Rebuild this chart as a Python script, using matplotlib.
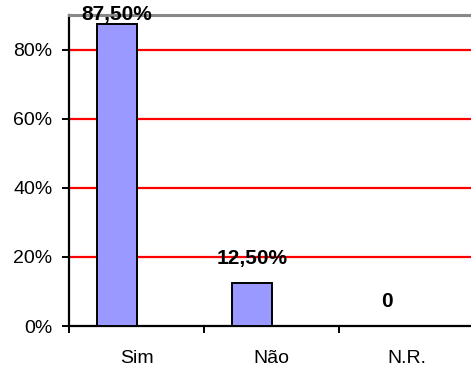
import matplotlib
matplotlib.use("Agg")
import matplotlib.pyplot as plt

plt.rcParams["font.family"] = ["Liberation Sans", "DejaVu Sans"]

categorias = ["Sim", "Não", "N.R."]
valores = [87.5, 12.5, 0.0]
rotulos = ["87,50%", "12,50%", "0"]


def plot():
    fig = plt.figure(figsize=(4.71, 3.69), dpi=100)
    ax = fig.add_axes([0.1465, 0.1165, 0.86, 0.843])

    x = list(range(len(categorias)))
    ax.bar([i - 0.145 for i in x], valores, width=0.296,
           color="#9999FF", edgecolor="black", linewidth=1.4, zorder=3)

    # rótulos de valor acima das barras (limitados ao topo do gráfico)
    for i, (v, r) in enumerate(zip(valores, rotulos)):
        ax.text(i - 0.145, min(v + 7, 90.1), r, ha="center", va="center",
                fontsize=15, fontweight="bold", zorder=5)

    ax.set_xlim(-0.5, 2.5)
    ax.set_ylim(0, 90)

    for g in [20, 40, 60, 80]:
        ax.axhline(g, color="red", linewidth=1.6, zorder=1)
    ax.axhline(90, color="#888888", linewidth=2.2, zorder=4, clip_on=False)

    ax.set_yticks([0, 20, 40, 60, 80])
    ax.set_yticklabels(["0%", "20%", "40%", "60%", "80%"])
    ax.tick_params(axis="y", length=5, width=1.4, pad=7, labelsize=14)

    ax.set_xticks([-0.5, 0.5, 1.5, 2.5])
    ax.set_xticklabels([])
    ax.set_xticks(x, minor=True)
    ax.set_xticklabels(categorias, minor=True)
    ax.tick_params(axis="x", which="major", length=5, width=1.4)
    ax.tick_params(axis="x", which="minor", length=0, pad=17, labelsize=14)

    ax.spines["top"].set_visible(False)
    ax.spines["right"].set_visible(False)
    ax.spines["left"].set_linewidth(1.6)
    ax.spines["bottom"].set_linewidth(1.6)

    fig.savefig("out.png", dpi=100)


if __name__ == "__main__":
    plot()
